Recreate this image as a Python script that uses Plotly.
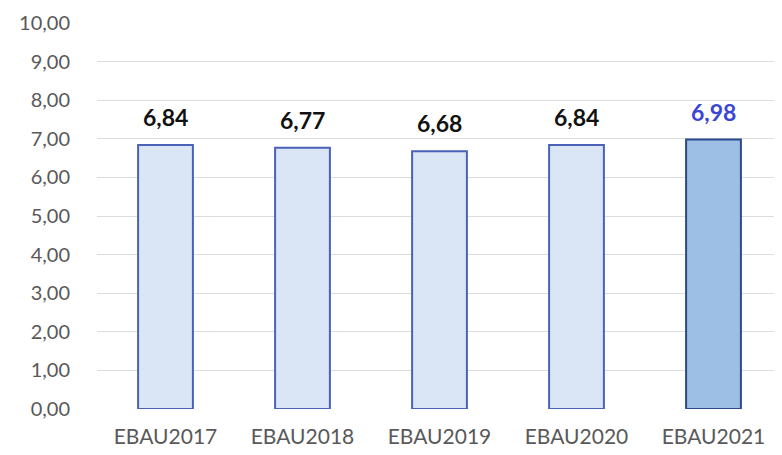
import plotly.graph_objects as go

categories = ["EBAU2017", "EBAU2018", "EBAU2019", "EBAU2020", "EBAU2021"]
values = [6.84, 6.77, 6.68, 6.84, 6.98]
tick_vals = [0, 1, 2, 3, 4, 5, 6, 7, 8, 9, 10]
tick_text = ["0,00", "1,00", "2,00", "3,00", "4,00", "5,00", "6,00", "7,00", "8,00", "9,00", "10,00"]
value_text = ["6,84", "6,77", "6,68", "6,84", "6,98"]

fills = ["#dae5f6", "#dae5f6", "#dae5f6", "#dae5f6", "#9dbfe6"]
lines = ["#4a62b8", "#4a62b8", "#4a62b8", "#4a62b8", "#2b4a8c"]
label_colors = ["#111111", "#111111", "#111111", "#111111", "#3a45d6"]

fig = go.Figure()
fig.add_trace(go.Bar(
    x=categories, y=values,
    marker=dict(color=fills, line=dict(color=lines, width=2)),
    width=0.4,
    hoverinfo="skip",
))

for c, v, t, col in zip(categories, values, value_text, label_colors):
    fig.add_annotation(x=c, y=v, text=t, showarrow=False, yanchor="bottom", yshift=12,
                       font=dict(family="Lato, Noto Sans, sans-serif", size=23, color=col, weight="bold"))

fig.update_layout(
    width=774, height=447,
    margin=dict(l=89, r=0, t=15, b=46),
    paper_bgcolor="white", plot_bgcolor="white",
    showlegend=False,
    font=dict(family="Lato, Noto Sans, sans-serif", color="#595959", size=13),
    xaxis=dict(showline=False, ticks="", ticklabelstandoff=13, tickfont=dict(size=21, color="#595959")),
    yaxis=dict(range=[0, 10], tickvals=tick_vals, ticktext=tick_text, showgrid=True,
               gridcolor="#dcdcdc", gridwidth=1, zeroline=False, ticks="", ticklabelstandoff=26,
               tickfont=dict(size=20, color="#595959")),
)

fig.write_html("out.html")
